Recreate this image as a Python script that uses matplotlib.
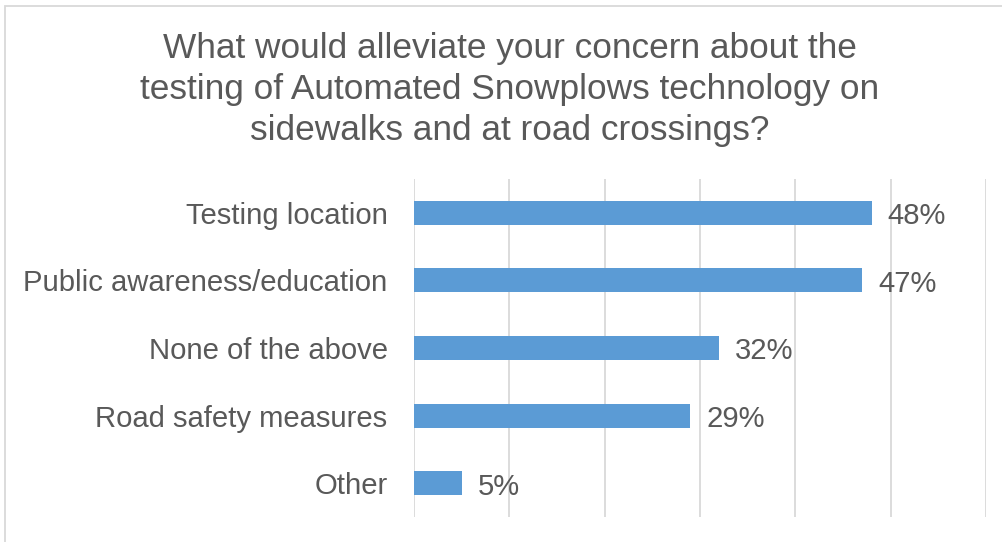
import matplotlib
matplotlib.use("Agg")
import matplotlib.pyplot as plt
from matplotlib.patches import Rectangle

# Survey responses (share of respondents, %)
categories = [
    "Testing location",
    "Public awareness/education",
    "None of the above",
    "Road safety measures",
    "Other",
]
values = [48, 47, 32, 29, 5]
value_labels = ["48%", "47%", "32%", "29%", "5%"]
title_text = ("What would alleviate your concern about the\n"
              "testing of Automated Snowplows technology on\n"
              "sidewalks and at road crossings?")

BAR_COLOR = "#5B9BD5"
GRID_COLOR = "#D9D9D9"
TEXT_COLOR = "#595959"
FONT = ["Liberation Sans", "DejaVu Sans"]

W, H, DPI = 1003, 542, 100
fig = plt.figure(figsize=(W / DPI, H / DPI), dpi=DPI)
fig.patch.set_facecolor("white")

# chart frame
fig.add_artist(Rectangle((5.5 / W, -0.1), 1.2, 1 - 5.5 / H + 0.1,
                         transform=fig.transFigure, fill=False,
                         edgecolor=GRID_COLOR, linewidth=1.3))

left, right, top, bottom = 414, 986, 179, 517
ax = fig.add_axes([left / W, 1 - bottom / H, (right - left) / W, (bottom - top) / H])

ypos = list(range(len(categories)))
ax.barh(ypos, values, height=0.355, color=BAR_COLOR, zorder=3)
ax.set_ylim(len(categories) - 0.5, -0.5)
ax.set_xlim(0, 60)
ax.set_xticks(range(0, 61, 10))
ax.xaxis.grid(True, color=GRID_COLOR, linewidth=1.3, zorder=0)
ax.tick_params(axis="x", length=0, labelbottom=False)
ax.tick_params(axis="y", length=0, pad=19)
ax.set_yticks(ypos)
ax.set_yticklabels(categories, fontsize=21.1, color=TEXT_COLOR, family=FONT)
for s in ax.spines.values():
    s.set_visible(False)

for y, v, lab in zip(ypos, values, value_labels):
    ax.annotate(lab, xy=(v, y), xytext=(11.5, -2.5), textcoords="offset points",
                va="center", ha="left", fontsize=21.1, color=TEXT_COLOR,
                family=FONT)

fig.text(510 / W, 1 - 89.5 / H, title_text, ha="center", va="center",
         fontsize=25.4, color=TEXT_COLOR, family=FONT, linespacing=1.31)

fig.savefig("out.png", dpi=DPI)
